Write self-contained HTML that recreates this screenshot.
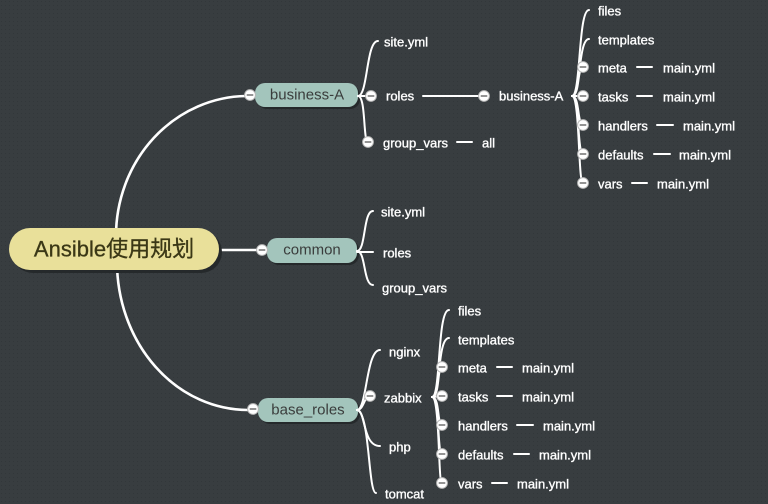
<!DOCTYPE html>
<html><head><meta charset="utf-8"><style>
html,body{margin:0;padding:0;background:#383d40;}
svg{display:block;}
.t{font-family:"Liberation Sans","Noto Sans CJK SC",sans-serif;font-size:13px;fill:#ffffff;stroke:#ffffff;stroke-width:0.35;dominant-baseline:central;}
.p{font-family:"Liberation Sans","Noto Sans CJK SC",sans-serif;font-size:15px;fill:#3a3d3c;dominant-baseline:central;text-anchor:middle;}
.c{fill:none;stroke:#fff;stroke-width:2;stroke-linecap:round;}
.m{fill:#fff;stroke:#b8b8b8;stroke-width:1;}
.mi{stroke:#7a7a7a;stroke-width:1.6;}
</style></head><body>
<svg width="768" height="504" viewBox="0 0 768 504" xmlns="http://www.w3.org/2000/svg">
<defs>
<pattern id="dots" width="4" height="4" patternUnits="userSpaceOnUse">
<rect width="4" height="4" fill="#383d40"/>
<rect x="1" y="1" width="1" height="1" fill="#32373a"/>
</pattern>
<g id="mk"><circle cx="0" cy="0" r="5.4" class="m"/><line x1="-3.3" y1="0" x2="3.3" y2="0" class="mi"/></g>
</defs>
<rect width="768" height="504" fill="url(#dots)"/>

<!-- main curves -->
<path d="M116 236 A132 140 0 0 1 246 96" fill="none" stroke="#fff" stroke-width="2.6"/>
<path d="M117 262 A131 148 0 0 0 248 410" fill="none" stroke="#fff" stroke-width="2.6"/>
<line x1="215" y1="250" x2="258" y2="250" stroke="#fff" stroke-width="2.6"/>

<!-- root node -->
<rect x="12" y="231" width="210" height="42" rx="21" fill="#25292b"/>
<rect x="9" y="228" width="210" height="42" rx="21" fill="#e9e09a"/>
<text x="114" y="249" font-family="'Liberation Sans','Noto Sans CJK SC',sans-serif" font-size="22" fill="#3b3816" stroke="#3b3816" stroke-width="0.3" text-anchor="middle" dominant-baseline="central">Ansible使用规划</text>

<!-- business-A -->
<rect x="257" y="85" width="103" height="24" rx="10" fill="#25292b"/>
<rect x="255" y="83" width="103" height="24" rx="10" fill="#a3c5bc"/>
<text class="p" x="307" y="95">business-A</text>
<use href="#mk" x="250" y="95"/>

<path class="c" d="M358 96 C368 96 366 41 378 41"/>
<line class="c" x1="358" y1="96" x2="371" y2="96"/>
<path class="c" d="M358 96 C366 96 363 142 368 142"/>
<use href="#mk" x="371" y="96"/>
<use href="#mk" x="368" y="142"/>
<text class="t" x="384" y="42">site.yml</text>
<text class="t" x="386" y="96">roles</text>
<text class="t" x="383" y="143">group_vars</text>
<line class="c" x1="457" y1="142" x2="472" y2="142"/>
<text class="t" x="482" y="143">all</text>
<line class="c" x1="423" y1="96" x2="484" y2="96"/>
<use href="#mk" x="484" y="96"/>
<text class="t" x="499" y="96">business-A</text>

<!-- right fan (business-A roles) -->
<path class="c" d="M572 96 C581 96 578 10 589 10"/>
<path class="c" d="M572 96 C581 96 578 39 589 39"/>
<path class="c" d="M572 96 C580 96 577 67 583 67"/>
<line class="c" x1="572" y1="96" x2="583" y2="96"/>
<path class="c" d="M572 96 C580 96 577 125 583 125"/>
<path class="c" d="M572 96 C580 96 577 154 583 154"/>
<path class="c" d="M572 96 C580 96 578 183 583 183"/>
<use href="#mk" x="583" y="67"/>
<use href="#mk" x="583" y="96"/>
<use href="#mk" x="583" y="125"/>
<use href="#mk" x="583" y="154"/>
<use href="#mk" x="583" y="183"/>
<text class="t" x="598" y="11">files</text>
<text class="t" x="598" y="40">templates</text>
<text class="t" x="598" y="68">meta</text>
<line class="c" x1="637" y1="67" x2="652" y2="67"/>
<text class="t" x="663" y="68">main.yml</text>
<text class="t" x="598" y="97">tasks</text>
<line class="c" x1="637" y1="96" x2="652" y2="96"/>
<text class="t" x="663" y="97">main.yml</text>
<text class="t" x="598" y="126">handlers</text>
<line class="c" x1="657" y1="125" x2="673" y2="125"/>
<text class="t" x="683" y="126">main.yml</text>
<text class="t" x="598" y="155">defaults</text>
<line class="c" x1="654" y1="154" x2="670" y2="154"/>
<text class="t" x="679" y="155">main.yml</text>
<text class="t" x="598" y="184">vars</text>
<line class="c" x1="632" y1="183" x2="647" y2="183"/>
<text class="t" x="657" y="184">main.yml</text>

<!-- common -->
<rect x="269" y="240" width="90" height="25" rx="10" fill="#25292b"/>
<rect x="267" y="238" width="90" height="25" rx="10" fill="#a3c5bc"/>
<text class="p" x="312" y="250">common</text>
<use href="#mk" x="262" y="250"/>
<path class="c" d="M357 251 C366 251 363 211 373 211"/>
<line class="c" x1="357" y1="252" x2="373" y2="252"/>
<path class="c" d="M357 251 C366 251 363 285 373 285"/>
<text class="t" x="381" y="212">site.yml</text>
<text class="t" x="383" y="253">roles</text>
<text class="t" x="382" y="288">group_vars</text>

<!-- base_roles -->
<rect x="260" y="400" width="100" height="24" rx="10" fill="#25292b"/>
<rect x="258" y="398" width="100" height="24" rx="10" fill="#a3c5bc"/>
<text class="p" x="308" y="410">base_roles</text>
<use href="#mk" x="253" y="409"/>
<path class="c" d="M357 410 C367 410 366 350 380 350"/>
<path class="c" d="M357 410 C364 410 364 396 370 396"/>
<path class="c" d="M357 410 C366 410 362 446 380 446"/>
<path class="c" d="M357 410 C370 412 368 493 376 493"/>
<use href="#mk" x="370" y="396"/>
<text class="t" x="389" y="352">nginx</text>
<text class="t" x="384" y="398">zabbix</text>
<text class="t" x="389" y="447">php</text>
<text class="t" x="385" y="494">tomcat</text>

<!-- zabbix fan -->
<path class="c" d="M432 397 C441 397 437 310 449 310"/>
<path class="c" d="M432 397 C441 397 437 338 449 338"/>
<path class="c" d="M432 397 C440 397 437 367 442 367"/>
<line class="c" x1="432" y1="397" x2="442" y2="396"/>
<path class="c" d="M432 397 C440 397 437 425 442 425"/>
<path class="c" d="M432 397 C440 397 437 454 442 454"/>
<path class="c" d="M432 397 C440 397 438 483 442 483"/>
<use href="#mk" x="442" y="367"/>
<use href="#mk" x="442" y="396"/>
<use href="#mk" x="442" y="425"/>
<use href="#mk" x="442" y="454"/>
<use href="#mk" x="442" y="483"/>
<text class="t" x="458" y="311">files</text>
<text class="t" x="458" y="340">templates</text>
<text class="t" x="458" y="368">meta</text>
<line class="c" x1="497" y1="367" x2="512" y2="367"/>
<text class="t" x="522" y="368">main.yml</text>
<text class="t" x="458" y="397">tasks</text>
<line class="c" x1="497" y1="396" x2="512" y2="396"/>
<text class="t" x="522" y="397">main.yml</text>
<text class="t" x="458" y="426">handlers</text>
<line class="c" x1="517" y1="425" x2="533" y2="425"/>
<text class="t" x="543" y="426">main.yml</text>
<text class="t" x="458" y="455">defaults</text>
<line class="c" x1="514" y1="454" x2="529" y2="454"/>
<text class="t" x="539" y="455">main.yml</text>
<text class="t" x="458" y="484">vars</text>
<line class="c" x1="492" y1="483" x2="507" y2="483"/>
<text class="t" x="517" y="484">main.yml</text>
</svg>
</body></html>
